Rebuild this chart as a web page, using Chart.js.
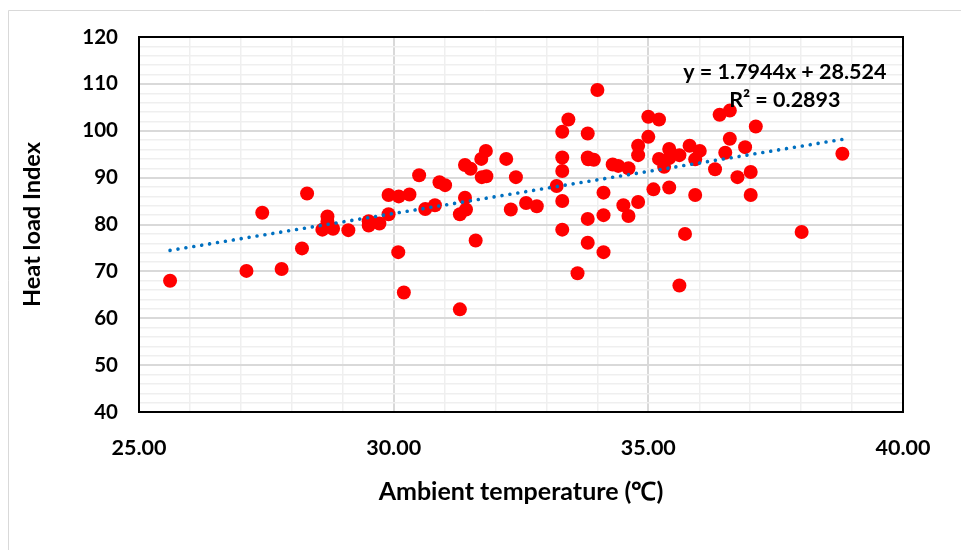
<!DOCTYPE html>
<html>
<head>
<meta charset="utf-8">
<script src="https://cdn.jsdelivr.net/npm/chart.js@4.4.1/dist/chart.umd.min.js"></script>
<style>
  html, body { margin: 0; padding: 0; background: #ffffff; }
  #wrap { position: relative; width: 961px; height: 550px; }
</style>
</head>
<body>
<div id="wrap"><canvas id="c" width="961" height="550"></canvas></div>
<script>
// ---- data ----
const xValues = [25.61, 27.11, 27.42, 27.80, 28.20, 28.30, 28.70, 28.70, 28.60, 28.81,
  29.11, 29.51, 29.51, 29.72, 29.90, 29.90, 30.10, 30.31, 30.09, 30.20,
  30.50, 30.62, 30.81, 30.90, 31.01, 31.30, 31.40, 31.51, 31.40, 31.42,
  31.30, 31.61, 31.72, 31.81, 31.73, 31.82, 32.21, 32.40, 32.30, 32.60,
  32.81, 33.20, 33.31, 33.31, 33.31, 33.31, 33.31, 33.43, 33.61, 33.81,
  33.81, 33.82, 33.93, 33.81, 33.81, 34.00, 34.12, 34.12, 34.12, 34.30,
  34.41, 34.61, 34.51, 34.61, 34.80, 34.80, 34.80, 35.00, 35.21, 35.00,
  35.10, 35.21, 35.31, 35.41, 35.41, 35.41, 35.61, 35.81, 35.92, 35.92,
  35.72, 35.61, 36.01, 36.31, 36.40, 36.60, 36.60, 36.51, 36.90, 37.11,
  36.75, 37.01, 37.01, 38.01, 38.81];
const yValues = [68.0, 70.1, 82.5, 70.5, 74.9, 86.6, 81.7, 80.6, 78.9, 79.1,
  78.8, 80.7, 79.8, 80.2, 82.2, 86.3, 86.0, 86.4, 74.1, 65.5,
  90.5, 83.3, 84.1, 89.0, 88.4, 61.9, 92.7, 91.9, 85.7, 83.2,
  82.2, 76.6, 94.0, 95.7, 90.1, 90.3, 94.0, 90.1, 83.2, 84.6,
  83.9, 88.2, 85.0, 78.9, 91.4, 94.3, 99.8, 102.4, 69.6, 99.4,
  94.3, 93.9, 93.8, 81.2, 76.1, 108.7, 86.8, 82.0, 74.1, 92.8,
  92.5, 92.0, 84.1, 81.8, 84.8, 94.8, 96.8, 103.0, 102.4, 98.7,
  87.5, 94.0, 92.3, 96.1, 87.9, 94.2, 94.8, 96.8, 93.9, 86.3,
  78.0, 67.0, 95.7, 91.8, 103.4, 104.3, 98.3, 95.3, 96.5, 100.9,
  90.1, 91.2, 86.3, 78.4, 95.1];
const trendSlope = 1.7944;
const trendIntercept = 28.524;
const equationLines = ['y = 1.7944x + 28.524', 'R\u00B2 = 0.2893'];
const xTickLabels = ['25.00', '30.00', '35.00', '40.00'];
const yTickLabels = ['40', '50', '60', '70', '80', '90', '100', '110', '120'];
const xTitle = 'Ambient temperature (\u2103)';
const yTitle = 'Heat load Index';

const FONT = 'Lato, Carlito, Calibri, "Open Sans", sans-serif';

const points = xValues.map((x, i) => ({ x: x, y: yValues[i] }));
const xMinData = Math.min(...xValues), xMaxData = Math.max(...xValues);
const trendPoints = [xMinData, xMaxData].map(x => ({ x: x, y: trendSlope * x + trendIntercept }));

const frame = {
  id: 'frame',
  beforeDraw(chart) {
    const ctx = chart.ctx;
    ctx.save();
    ctx.fillStyle = '#ffffff';
    ctx.fillRect(0, 0, chart.width, chart.height);
    ctx.strokeStyle = '#d9d9d9';
    ctx.lineWidth = 1;
    ctx.beginPath();
    ctx.moveTo(8.5, chart.height);
    ctx.lineTo(8.5, 10.5);
    ctx.lineTo(chart.width, 10.5);
    ctx.stroke();
    ctx.restore();
  },
  afterDraw(chart) {
    const {ctx, chartArea: a} = chart;
    ctx.save();
    ctx.strokeStyle = '#000000';
    ctx.lineWidth = 2;
    ctx.strokeRect(a.left, a.top, a.right - a.left, a.bottom - a.top);
    // trendline equation
    const xs = chart.scales.x, ys = chart.scales.y;
    const cx = xs.getPixelForValue(37.68);
    ctx.fillStyle = '#000000';
    ctx.font = 'bold 21.5px ' + FONT;
    ctx.textAlign = 'center';
    ctx.textBaseline = 'middle';
    ctx.fillText(equationLines[0], cx, ys.getPixelForValue(112.6));
    ctx.fillText(equationLines[1], cx, ys.getPixelForValue(106.6));
    ctx.restore();
  }
};

new Chart(document.getElementById('c'), {
  type: 'scatter',
  data: {
    datasets: [
      {
        label: 'Heat load Index',
        data: points,
        backgroundColor: '#ff0000',
        borderColor: '#ff0000',
        borderWidth: 0,
        pointRadius: 7,
        pointHoverRadius: 7,
        order: 2
      },
      {
        type: 'line',
        label: 'Linear trend',
        data: trendPoints,
        showLine: true,
        borderColor: '#0070c0',
        borderWidth: 3.6,
        borderDash: [0.01, 8],
        borderCapStyle: 'round',
        pointRadius: 0,
        fill: false,
        tension: 0,
        order: 1
      }
    ]
  },
  options: {
    responsive: false,
    animation: false,
    devicePixelRatio: 1,
    layout: { padding: { left: 0, top: 37, right: 58, bottom: 0 } },
    plugins: { legend: { display: false }, tooltip: { enabled: false } },
    scales: {
      x: {
        type: 'linear',
        min: 25, max: 40,
        afterFit(s) { s.height = 138; },
        border: { display: false },
        grid: {
          drawTicks: false,
          color: c => (c.tick && c.tick.value % 5 === 0) ? '#d9d9d9' : '#efefef',
          lineWidth: c => (c.tick && c.tick.value % 5 === 0) ? 2 : 1.5
        },
        ticks: {
          stepSize: 1,
          autoSkip: false,
          maxRotation: 0,
          padding: 23,
          color: '#000000',
          font: { family: FONT, size: 21.5, weight: 'bold' },
          callback: v => {
            const i = xTickLabels.indexOf(Number(v).toFixed(2));
            return i >= 0 ? xTickLabels[i] : '';
          }
        },
        title: {
          display: true,
          text: xTitle,
          color: '#000000',
          font: { family: FONT, size: 25, weight: 'bold' },
          padding: { top: 0, bottom: 43 }
        }
      },
      y: {
        type: 'linear',
        min: 40, max: 120,
        afterFit(s) { s.width = 139; },
        border: { display: false },
        grid: {
          drawTicks: false,
          color: c => (c.tick && c.tick.value % 10 === 0) ? '#d9d9d9' : '#efefef',
          lineWidth: c => (c.tick && c.tick.value % 10 === 0) ? 2 : 1.5
        },
        ticks: {
          stepSize: 2,
          autoSkip: false,
          padding: 21,
          color: '#000000',
          font: { family: FONT, size: 20.5, weight: 'bold' },
          callback: v => {
            const i = yTickLabels.indexOf(String(v));
            return i >= 0 ? yTickLabels[i] : '';
          }
        },
        title: {
          display: true,
          text: yTitle,
          color: '#000000',
          font: { family: FONT, size: 23.5, weight: 'bold' },
          padding: { top: 18, bottom: 0 }
        }
      }
    }
  },
  plugins: [frame]
});
</script>
</body>
</html>
